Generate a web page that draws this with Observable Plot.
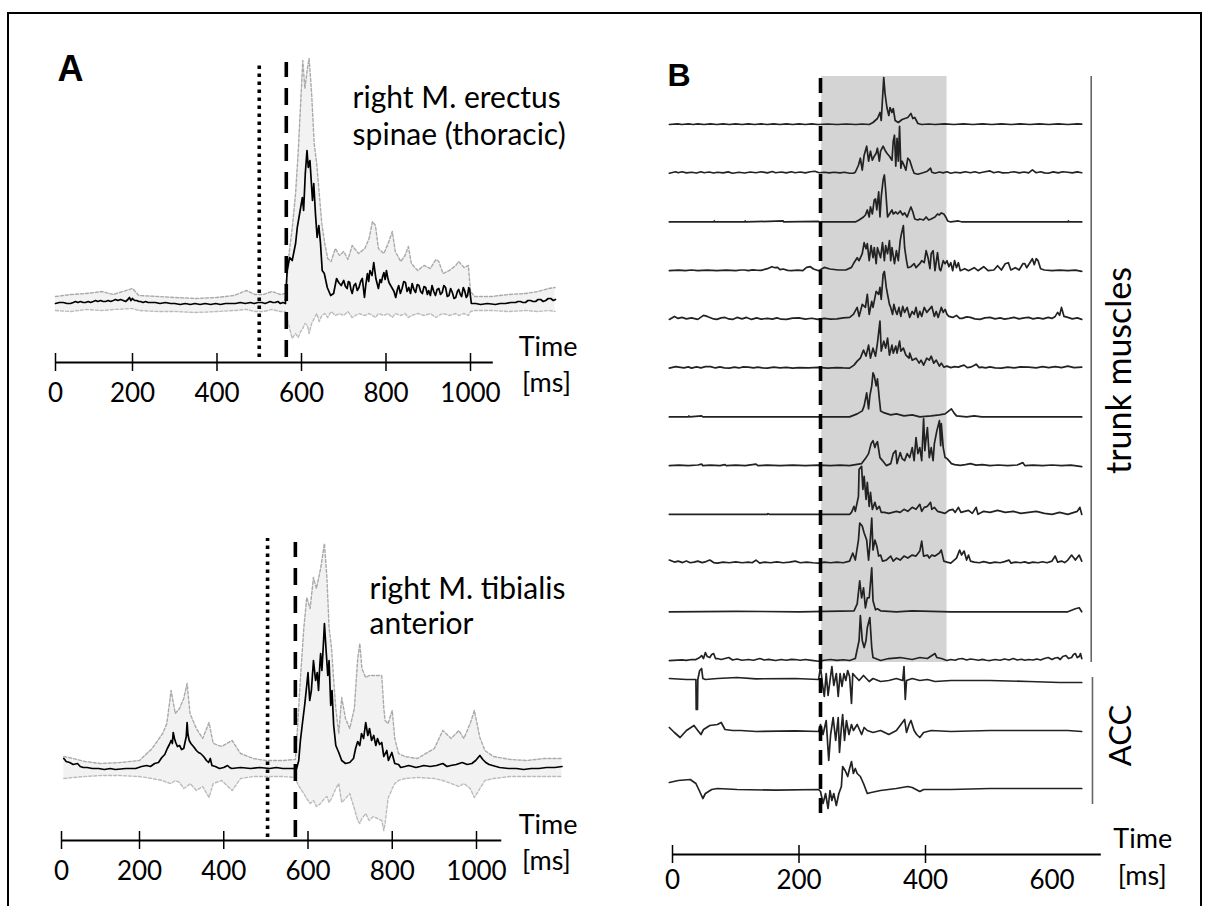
<!DOCTYPE html>
<html><head><meta charset="utf-8">
<script src="https://cdn.jsdelivr.net/npm/d3@7"></script>
<script src="https://cdn.jsdelivr.net/npm/@observablehq/plot@0.6"></script>
<style>
html,body{margin:0;padding:0;background:#fff;width:1207px;height:906px;overflow:hidden;}
#fig{position:relative;width:1207px;height:906px;overflow:hidden;}
#fig svg{position:absolute;left:0;top:0;}
#frame{position:absolute;left:7px;top:12px;width:1195px;height:1000px;border:2.5px solid #000;box-sizing:border-box;}
</style></head><body><div id="fig"><div id="frame"></div></div>
<script>
// ---------- Panel A: time ticks (ms) ----------
const aTicks = [0, 200, 400, 600, 800, 1000];
// onset markers [dotted, dashed] in ms
const erectusMarkers = [500, 564];
const tibialisMarkers = [504, 570];
const erectusLabel = ["right M. erectus", "spinae (thoracic)"];
const tibialisLabel = ["right M. tibialis", "anterior"];

// mean EMG (black) [ms, amplitude a.u.]
const erectusMean = [[0,0],[10,1],[20,1],[30,0],[39,0],[46,1],[52,2],[58,1],[65,2],[72,1],[78,1],[85,2],[91,1],[98,2],[104,3],[110,2],[117,3],[124,2],[130,2],[137,3],[143,2],[150,3],[156,4],[162,3],[169,4],[176,3],[182,2],[188,4],[192,6],[196,3],[200,5],[205,3],[210,3],[215,2],[219,2],[225,1],[231,2],[237,1],[243,1],[254,1],[265,0],[278,1],[290,0],[300,0],[313,-1],[325,0],[337,-1],[348,0],[360,-1],[372,0],[385,-1],[397,0],[408,-1],[420,0],[432,0],[444,0],[455,1],[467,0],[479,1],[488,0],[497,1],[506,1],[514,0],[520,1],[526,2],[532,1],[538,1],[544,2],[550,0],[556,1],[562,0],[566,33],[572,46],[578,43],[586,60],[590,76],[598,96],[602,106],[605,93],[609,130],[613,153],[616,136],[620,143],[623,123],[626,103],[629,120],[633,90],[637,66],[641,78],[645,60],[649,33],[654,30],[661,16],[669,8],[676,10],[683,25],[688,21],[694,18],[700,23],[704,17],[708,15],[711,22],[714,21],[717,14],[720,10],[724,18],[728,20],[732,13],[736,16],[740,22],[744,25],[749,6],[752,18],[756,30],[759,22],[762,33],[767,28],[771,41],[776,25],[779,20],[782,15],[786,24],[789,21],[792,27],[795,31],[798,24],[801,33],[804,26],[807,21],[811,18],[815,15],[819,12],[823,6],[827,14],[830,18],[834,10],[838,15],[842,22],[846,21],[850,12],[854,16],[858,10],[862,20],[866,14],[870,11],[874,19],[878,18],[882,12],[886,10],[890,17],[894,16],[898,9],[901,13],[905,8],[909,18],[913,12],[917,8],[921,14],[925,15],[929,9],[933,11],[937,18],[941,16],[945,7],[949,8],[953,15],[957,11],[961,5],[965,6],[969,12],[972,14],[976,9],[979,7],[983,16],[986,13],[990,6],[993,8],[996,16],[998,14],[1002,0],[1012,0],[1024,-1],[1040,0],[1059,-1],[1070,0],[1083,0],[1095,1],[1107,1],[1112,2],[1118,2],[1124,1],[1130,1],[1136,3],[1142,3],[1148,2],[1154,2],[1160,4],[1166,4],[1172,2],[1178,3],[1184,5],[1190,5],[1196,3],[1201,4]];
// single trials (grey) envelope [ms, low, high]
const erectusTrials = [[0,-7,7],[40,-8,9],[80,-6,10],[120,-7,12],[150,-6,9],[200,-5,15],[215,-7,8],[260,-8,7],[300,-8,6],[350,-9,5],[400,-8,6],[440,-7,8],[470,-6,13],[490,-8,9],[510,-8,9],[530,-6,12],[550,-8,9],[562,-8,10],[566,-15,30],[572,-25,55],[578,-35,75],[586,-30,110],[592,-34,150],[598,-28,200],[603,-25,243],[608,-20,215],[614,-22,235],[618,-30,245],[624,-20,210],[630,-15,160],[636,-10,140],[642,-18,110],[648,-12,80],[655,-10,60],[662,-14,45],[670,-8,42],[680,-12,55],[690,-10,48],[700,-12,52],[710,-8,44],[720,-14,58],[735,-10,50],[750,-12,55],[760,-10,65],[768,-12,82],[775,-14,78],[782,-10,55],[795,-12,50],[805,-10,60],[815,-14,72],[822,-10,52],[835,-12,42],[845,-10,48],[853,-14,57],[860,-12,40],[875,-10,33],[890,-12,38],[905,-10,35],[918,-14,44],[925,-12,42],[935,-10,30],[950,-12,33],[965,-10,38],[972,-12,42],[985,-10,36],[995,-12,38],[1000,-8,12],[1010,-7,7],[1050,-7,7],[1090,-8,9],[1130,-7,10],[1160,-8,12],[1185,-7,15],[1200,-8,16]];

const tibialisMean = [[6,10],[12,7],[21,6],[30,4],[41,5],[48,2],[56,1],[66,1],[79,0],[95,0],[110,-1],[125,0],[138,-1],[165,0],[190,0],[205,2],[217,3],[226,2],[236,5],[245,6],[253,11],[260,14],[266,20],[271,24],[275,28],[278,25],[280,36],[283,30],[286,26],[290,22],[295,23],[300,19],[305,20],[309,28],[311,32],[313,46],[315,34],[318,28],[322,25],[326,23],[330,21],[335,18],[340,16],[345,15],[350,13],[354,11],[359,8],[364,6],[368,10],[372,3],[380,2],[390,0],[400,1],[409,3],[414,1],[419,0],[440,1],[464,0],[485,1],[509,0],[525,1],[540,0],[556,0],[573,0],[578,8],[582,28],[587,46],[592,63],[597,83],[600,96],[604,68],[608,78],[613,108],[618,88],[622,96],[625,78],[628,103],[630,115],[633,98],[637,128],[639,145],[643,118],[647,93],[650,108],[654,63],[657,78],[661,43],[666,23],[673,16],[680,8],[689,5],[699,6],[708,10],[713,20],[718,27],[723,23],[727,35],[732,30],[737,46],[742,33],[746,40],[751,28],[756,33],[761,23],[765,30],[770,24],[775,26],[780,12],[787,18],[791,8],[799,16],[806,5],[815,4],[820,1],[830,2],[839,3],[848,2],[856,1],[866,2],[875,3],[890,2],[905,3],[920,5],[930,2],[939,3],[952,4],[966,6],[978,4],[989,5],[998,8],[1008,13],[1015,9],[1022,6],[1030,4],[1038,3],[1055,1],[1076,0],[1095,0],[1112,-1],[1130,0],[1148,0],[1166,1],[1186,1],[1203,2]];
const tibialisTrials = [[6,-10,12],[30,-9,10],[60,-8,7],[100,-7,5],[150,-7,6],[200,-8,8],[230,-10,20],[255,-12,35],[265,-14,45],[275,-15,78],[285,-12,55],[295,-14,60],[305,-20,70],[313,-18,85],[320,-15,55],[335,-22,40],[350,-18,30],[365,-29,46],[375,-15,25],[395,-12,22],[420,-22,28],[440,-10,15],[470,-8,10],[500,-8,8],[540,-8,8],[570,-9,9],[575,-15,40],[582,-20,90],[590,-25,140],[597,-30,171],[605,-35,160],[613,-32,191],[620,-38,180],[630,-35,200],[639,-30,225],[645,-28,190],[650,-34,141],[656,-30,120],[661,-25,88],[666,-20,60],[673,-15,35],[680,-34,71],[689,-30,50],[699,-25,40],[710,-40,60],[718,-52,110],[723,-55,125],[728,-50,100],[737,-45,91],[745,-52,93],[755,-48,93],[765,-50,93],[775,-52,93],[780,-62,60],[783,-55,48],[790,-30,45],[800,-20,58],[806,-15,30],[815,-12,15],[830,-10,12],[860,-9,10],[900,-10,20],[920,-12,38],[940,-15,30],[958,-18,38],[970,-15,30],[985,-20,45],[995,-29,58],[1008,-20,31],[1020,-12,18],[1040,-10,12],[1080,-8,9],[1120,-8,8],[1160,-8,10],[1203,-8,10]];

// ---------- Panel B ----------
const bTicks = [0, 200, 400];
const bTickLabels = [0, 200, 400, 600];
const bOnset = [234];
const bWindow = [[236, 434]];
const trunk = [
[[-5,0],[8,0.6],[15,0],[25,0.6],[33,0],[40,0.7],[50,0],[60,0.7],[70,0],[80,0.6],[90,0],[100,0.6],[110,0],[120,0.7],[130,0],[140,0.6],[150,0],[160,0.7],[170,0],[180,0.6],[190,0],[200,0.6],[210,0],[220,0.7],[230,0],[245,0.5],[260,0],[275,0.5],[290,0],[300,0.5],[311,0],[317,2],[324,6],[328,12],[330,4],[334,47],[336,31],[339,17],[342,9],[344,17],[347,12],[349,16],[352,4],[357,2],[363,5],[372,7],[377,11],[380,6],[383,7],[388,1],[394,0],[405,0.5],[415,0],[430,0.6],[445,0],[460,0.6],[475,0],[490,0.6],[505,0],[520,0.6],[535,0],[550,0.6],[565,0],[580,0.6],[595,0],[610,0.6],[625,0],[640,0.6],[647,0.3]],
[[-5,0],[5,1.5],[9,0.5],[15,1.5],[22,0.3],[30,1],[38,0.2],[45,1.5],[50,0.5],[58,1.2],[65,0.2],[71,1],[80,0.3],[88,1.3],[95,0],[105,1],[114,0.2],[123,1.2],[132,0.5],[140,1.5],[150,0.3],[158,1.7],[163,0.5],[172,1.2],[180,0.3],[188,1.5],[194,0.5],[202,1.2],[210,0.3],[218,1.5],[225,2],[232,0.5],[240,1],[248,0.3],[255,1],[265,0.3],[272,1],[280,0],[286,0],[289,1],[294,8],[297,15],[300,3],[303,18],[307,27],[310,12],[313,22],[316,13],[319,17],[322,20],[324,25],[327,12],[329,22],[333,27],[336,23],[339,20],[343,17],[347,13],[349,32],[351,38],[353,7],[355,35],[357,12],[359,47],[361,5],[363,12],[366,8],[369,3],[372,15],[375,13],[379,5],[382,0],[388,-1],[396,0.5],[403,2],[408,5],[410,1],[415,0],[422,1.2],[428,0.3],[434,1.5],[440,0],[447,1],[455,0.3],[463,1.5],[471,0.5],[478,1.5],[485,0.2],[492,1.2],[502,2.3],[508,0.5],[515,1.5],[522,0.3],[532,0.7],[540,1.5],[548,0.3],[556,1.2],[563,0.3],[569,3.3],[575,0.5],[582,1.5],[588,0.3],[594,0],[602,1.3],[610,0.3],[617,1.5],[625,1],[632,0.3],[640,1.3],[647,0.5]],
[[-5,0],[65,0],[66,1],[67,0],[114,0],[115,1],[116,0],[175,1],[176,0],[231,0.5],[234,0],[289,0],[295,2],[302,5],[305,7],[308,12],[311,5],[313,15],[316,8],[319,22],[321,23],[323,12],[326,30],[328,5],[330,25],[333,42],[335,47],[337,32],[340,5],[343,8],[347,12],[349,8],[353,10],[356,8],[360,11],[364,7],[367,9],[371,5],[375,12],[377,15],[380,10],[383,3],[388,2],[391,3],[397,2],[401,5],[405,2],[409,3],[415,5],[419,8],[422,7],[425,9],[429,8],[432,5],[435,1],[440,0],[452,1],[458,0],[520,0],[625,0],[626,1],[627,0],[647,0]],
[[-5,0],[10,0.6],[20,0],[30,0.7],[40,0],[55,0.5],[70,0],[85,0.6],[100,0],[108,0.7],[114,0.7],[120,0],[126,0.8],[132,0.5],[140,0.3],[150,2],[157,4],[162,3],[166,3.3],[170,1],[175,1.7],[182,0.3],[188,0],[198,0.5],[206,0],[212,3.3],[218,4],[223,1.7],[231,0],[240,3.3],[249,1.7],[262,0.7],[274,0.7],[283,3.3],[287,8],[292,13],[295,10],[300,17],[303,28],[306,22],[308,27],[311,10],[314,25],[317,13],[319,23],[322,7],[324,23],[327,17],[329,13],[332,28],[335,10],[337,25],[340,17],[343,30],[345,10],[347,23],[351,7],[354,20],[357,10],[360,30],[362,37],[365,45],[367,23],[370,10],[372,3],[377,4],[382,7],[385,3],[391,7],[394,10],[398,8],[401,20],[404,13],[407,2],[409,17],[412,20],[415,0],[419,18],[422,2],[424,0],[428,10],[431,7],[434,10],[437,4],[440,8],[443,0],[446,10],[449,3],[452,8],[455,0],[462,2],[468,0],[477,3],[483,0],[492,4],[499,0],[508,0.7],[514,5],[520,0.7],[526,7],[531,8],[535,0.7],[542,3],[548,0.7],[554,7],[557,7],[560,3],[569,12],[572,6],[575,12],[578,10],[582,2],[588,0.7],[600,0],[612,0.5],[625,0],[637,0.5],[647,-0.7]],
[[-5,0],[3,3],[9,1],[15,2],[22,0.5],[30,1.5],[40,0],[49,4],[55,3],[59,2],[65,0.5],[70,0],[77,1.5],[83,2],[89,0.5],[95,0],[102,2],[110,0.5],[117,2],[125,0],[133,1.5],[140,0.3],[150,1],[158,0.3],[165,1.5],[172,0.2],[180,0],[190,1.3],[200,1.5],[210,0.3],[220,1.2],[230,0],[240,1],[250,0.3],[260,0.5],[270,1.5],[280,2],[286,5],[292,12],[295,3],[300,15],[305,12],[308,25],[311,5],[315,18],[317,12],[322,28],[326,25],[328,32],[330,20],[333,45],[335,48],[338,32],[340,25],[343,15],[345,12],[348,5],[350,15],[353,8],[355,5],[358,12],[361,3],[364,13],[367,7],[371,12],[375,2],[379,8],[382,5],[385,12],[388,2],[391,8],[394,3],[398,12],[402,7],[406,10],[410,13],[414,3],[417,8],[420,2],[425,12],[428,7],[431,10],[434,5],[437,3],[443,2],[449,4],[454,1],[458,1],[465,2.5],[471,2],[478,0.5],[486,0],[494,1.5],[502,2],[510,0.5],[518,1.5],[525,0.3],[532,1],[540,2],[548,0.5],[556,1.5],[563,2],[570,0.5],[578,1.5],[586,0.5],[594,2],[600,1],[605,3],[609,7],[612,4],[615,12],[619,3],[625,2],[632,0.5],[640,1.5],[647,0]],
[[-5,0],[5,1.5],[10,1],[18,0.3],[25,1.3],[30,0],[38,1.2],[45,0.3],[52,1.5],[60,1.5],[68,0.2],[75,1.2],[82,0.3],[90,0],[98,1],[105,0.2],[112,1.3],[120,1],[128,0.2],[135,1],[142,0.3],[150,0],[160,1],[170,0.2],[180,0.8],[190,0],[200,0.5],[215,0.2],[230,0.8],[245,0],[260,0.6],[270,0.2],[280,0],[287,3],[292,7],[297,10],[302,18],[306,12],[310,23],[313,10],[317,20],[321,12],[324,25],[328,47],[330,17],[334,27],[337,20],[340,30],[343,13],[347,23],[349,15],[353,22],[355,15],[359,27],[361,17],[365,20],[369,13],[374,10],[375,15],[379,8],[385,10],[390,5],[393,8],[397,3],[402,10],[406,8],[409,12],[413,5],[417,8],[422,2],[425,5],[429,1],[434,2],[440,0.5],[446,1.5],[452,1],[456,2],[461,3],[466,0.5],[471,1],[476,2.5],[480,4],[485,0.5],[489,1],[495,0.3],[502,1.2],[510,0.3],[520,0],[530,1],[540,0.3],[550,1.2],[563,1],[575,0.3],[585,1.5],[595,0.5],[605,1.5],[615,0.5],[625,2],[635,0.5],[647,1]],
[[-5,0],[25,0],[26,1],[27,0],[46,1],[48,0],[280,0],[292,3],[300,6],[303,11],[307,24],[310,8],[312,21],[315,31],[317,44],[319,41],[322,31],[324,38],[327,18],[329,6],[335,4],[345,2],[354,3],[366,1],[379,2],[391,0],[409,1],[422,2],[431,3],[437,6],[441,8],[445,4],[449,1],[465,0],[477,1],[489,0],[647,0]],
[[-5,0],[10,0.5],[25,0],[40,0.6],[46,1.5],[48,0],[60,0.5],[75,0],[83,1],[85,0],[100,0.5],[115,0],[132,1.5],[135,0],[150,0.5],[170,0],[190,0.5],[210,0],[230,0.5],[250,0],[265,0.5],[280,0],[299,2],[305,7],[310,12],[314,22],[317,25],[320,18],[322,22],[324,24],[328,8],[332,5],[338,0],[345,2],[349,12],[353,15],[355,2],[360,13],[363,7],[367,5],[371,12],[375,8],[379,18],[382,5],[385,28],[388,12],[391,18],[394,5],[397,47],[399,15],[400,22],[403,38],[406,8],[409,18],[412,5],[414,22],[418,35],[422,45],[424,20],[425,42],[428,18],[431,8],[434,7],[437,5],[441,2],[446,1],[455,0.3],[463,1],[471,2],[480,0.5],[490,1],[502,0],[515,0.6],[530,0],[545,0.6],[554,3],[557,0],[570,0.5],[585,0],[600,0.6],[615,0],[630,0.5],[647,-1]],
[[-5,0],[150,0],[151,0.7],[153,0],[280,0],[283,2],[287,8],[289,3],[294,18],[295,45],[299,48],[301,25],[303,38],[306,15],[308,32],[311,8],[313,22],[316,5],[320,12],[323,5],[327,8],[330,2],[335,2],[342,1],[348,2],[354,3],[360,2],[366,5],[372,3],[379,7],[385,5],[391,10],[394,3],[398,7],[403,8],[408,12],[410,5],[414,7],[419,3],[425,2],[431,1],[437,4],[443,5],[447,2],[452,7],[456,2],[462,3],[468,4],[474,1],[480,7],[483,0],[492,3],[502,2],[514,4],[526,2],[539,3],[551,1],[563,2],[575,3],[588,1],[600,0],[612,2],[625,0],[640,3],[644,7],[647,0]],
[[-5,3],[3,1],[9,2],[16,0.5],[22,2],[28,0.3],[34,1],[40,2],[47,0.5],[53,1.5],[59,3],[65,0.5],[71,0],[80,1],[90,0.3],[100,1.2],[110,0.3],[120,1],[126,0.3],[132,3],[138,0],[146,1],[155,0.3],[165,1.2],[175,0.3],[185,1],[194,2],[202,0.3],[212,1],[222,0.3],[231,0],[240,1],[250,0.3],[260,1],[270,0.3],[280,2],[285,10],[289,3],[294,23],[296,40],[300,37],[303,30],[307,23],[310,3],[312,17],[315,45],[317,13],[320,23],[323,17],[326,7],[329,8],[332,2],[338,3],[345,7],[349,2],[354,5],[360,3],[366,7],[372,5],[379,8],[385,7],[391,12],[394,22],[397,7],[403,8],[406,5],[410,8],[415,7],[422,10],[425,13],[429,2],[434,1],[440,0],[449,5],[454,13],[457,8],[461,12],[465,3],[468,8],[471,2],[477,1],[485,0.3],[492,1.5],[502,0],[510,1],[518,0.3],[525,1.5],[532,3],[535,0],[542,1],[550,0.3],[557,1.2],[563,0],[570,1],[578,0.3],[585,1.3],[592,0.3],[600,2],[605,7],[609,1],[615,2],[620,0.5],[625,3],[631,8],[637,3],[643,8],[647,2]],
[[-5,0],[100,0.5],[200,0],[287,1],[292,8],[296,31],[299,14],[302,24],[305,4],[308,14],[311,14],[315,44],[317,11],[321,2],[324,3],[329,1],[354,0],[379,1],[440,0],[625,0],[637,3],[643,4],[647,0]],
[[-5,0],[8,0.5],[15,0.7],[22,0.2],[30,1],[37,1],[43,3],[46,5],[49,2],[52,8],[55,4],[59,3],[62,6],[65,7],[68,2],[71,2],[77,1],[83,2],[89,3],[95,0.5],[102,1.5],[110,0.3],[120,1],[128,0.3],[138,2],[145,0.5],[152,1.2],[163,0],[172,1],[180,0.3],[188,1.2],[194,1],[202,0.3],[210,1],[220,0.2],[231,-0.7],[240,0.3],[250,1],[260,0.2],[270,0.8],[280,0],[289,2],[295,20],[297,45],[300,20],[303,13],[306,20],[308,33],[312,43],[315,13],[317,3],[329,0],[342,2],[360,3],[379,1],[391,3],[403,2],[415,7],[418,3],[425,2],[434,0],[440,1],[447,0.3],[452,1.5],[458,2],[465,0.5],[471,1.5],[477,1],[484,0.3],[490,1.2],[496,0.3],[502,0],[510,1],[518,0.3],[525,1.5],[532,0.5],[539,2],[545,0.5],[552,1.3],[557,0.3],[563,1],[570,0.5],[576,1.5],[582,0.5],[588,2],[594,3],[600,1],[605,2.5],[609,3],[613,1],[617,4],[622,5],[626,2],[631,3],[634,6],[637,7],[640,3],[643,4],[645,7],[647,2]]
];
const acc = [
[[-5,1],[22,0],[37,0],[37.5,-30],[39.5,-30],[40,0],[43,9],[46,11],[48,1],[52,0],[71,1],[102,2],[132,0.7],[194,1],[231,0],[234,13],[237,-4],[240,-17],[243,6],[246,-16],[249,-1],[252,13],[255,-6],[259,6],[262,-17],[265,6],[268,-7],[271,6],[274,-1],[277,9],[280,3],[283,-24],[285,6],[289,3],[295,-1],[302,4],[311,-2],[317,1],[329,-2],[342,-1],[354,1],[364,-1],[366,13],[368,-20],[370,-1],[379,1],[391,-1],[403,0],[415,-2],[440,-1],[502,-1],[563,-2],[612,-3],[647,-3]],
[[-5,4],[3,-1],[12,-6],[22,1],[34,6],[40,1],[45,-3],[49,2],[59,6],[71,7],[77,9],[83,2],[95,1],[108,1],[132,0],[194,0.7],[231,0],[234,7],[238,-3],[243,11],[247,-29],[250,-3],[254,14],[258,-9],[262,14],[264,-21],[267,4],[269,17],[272,-9],[275,11],[279,-3],[283,7],[286,1],[292,7],[299,-3],[303,4],[308,1],[317,-1],[329,1],[342,-3],[354,1],[367,12],[370,-1],[374,7],[377,11],[382,1],[386,-3],[391,-6],[397,-1],[409,1],[440,0],[502,1],[625,1],[647,0]],
[[-5,7],[9,9],[28,10],[37,6],[43,-2],[48,-9],[52,-4],[62,0],[71,1],[102,0],[163,-0.7],[231,0],[234,-2],[238,-14],[242,-4],[246,-19],[249,-1],[252,-11],[255,-4],[259,-16],[263,-4],[267,3],[269,23],[273,19],[277,13],[280,21],[283,28],[286,16],[289,21],[292,16],[297,13],[302,6],[308,-4],[314,-3],[329,-1],[354,1],[372,3],[379,2],[391,-2],[397,0],[440,0],[502,1],[647,1]]
];

// ---------- drawing ----------
const fig = document.getElementById("fig");
const FONT = "Lato, 'Open Sans', sans-serif";
function layer(opts) {
  const svg = Plot.plot({width: 1207, height: 906, margin: 0,
    style: {background: "transparent", overflow: "visible"}, ...opts});
  fig.appendChild(svg);
}

function emgPanel(o) {
  const axisY = o.axisY;
  layer({
    x: {type: "linear", domain: [0, 200, 1000], range: o.xRange, axis: null},
    y: {domain: [0, 245], range: o.yRange, axis: null},
    marks: [
      Plot.areaY(o.trials, {x: d => d[0], y1: d => d[1], y2: d => d[2], fill: "#f2f2f2"}),
      Plot.line(o.trials, {x: d => d[0], y: d => d[2], stroke: "#aaaaaa", strokeWidth: 1.4, strokeDasharray: "3,2"}),
      Plot.line(o.trials, {x: d => d[0], y: d => d[1], stroke: "#bbbbbb", strokeWidth: 1.4, strokeDasharray: "3,2"}),
      Plot.line(o.mean, {x: d => d[0], y: d => d[1], stroke: "#000", strokeWidth: 1.7}),
      Plot.ruleX([o.markers[0]], {y1: o.dotted[0], y2: o.dotted[1], stroke: "#000", strokeWidth: 3.6, strokeDasharray: "3.6,4.4"}),
      Plot.ruleX([o.markers[1]], {y1: o.dashed[0], y2: o.dashed[1], stroke: "#000", strokeWidth: 3.6, strokeDasharray: "17,11"}),
      Plot.ruleY([axisY], {x1: 0, x2: o.axisEnd, stroke: "#000", strokeWidth: 2}),
      Plot.ruleX(aTicks, {y1: axisY + 9, y2: axisY - 9, stroke: "#000", strokeWidth: 1.5}),
      Plot.text(aTicks, {x: d => d, y: axisY - 31, text: d => String(d), fontSize: 26, fontFamily: FONT, fill: "#000"}),
      Plot.text(["Time"], {x: o.timeX, y: axisY + 7, text: d => d, textAnchor: "start", lineAnchor: "bottom", fontSize: 27, fontFamily: FONT, fill: "#000"}),
      Plot.text(["[ms]"], {x: o.timeX + 8, y: axisY - 21, text: d => d, textAnchor: "start", fontSize: 27, fontFamily: FONT, fill: "#000"}),
      Plot.text([o.label[0]], {x: o.labelX, y: o.labelY, text: d => d, textAnchor: "start", lineAnchor: "bottom", fontSize: 30, fontFamily: FONT, fill: "#000"}),
      Plot.text([o.label[1]], {x: o.labelX, y: o.labelY - o.lineGap, text: d => d, textAnchor: "start", lineAnchor: "bottom", fontSize: 30, fontFamily: FONT, fill: "#000"}),
      ...(o.letter ? [Plot.text([o.letter], {x: o.letterX, y: o.letterY, text: d => d, textAnchor: "start", lineAnchor: "bottom", fontSize: 36, fontWeight: "bold", fontFamily: "'Liberation Sans', Arial, sans-serif", fill: "#000"})] : [])
    ]
  });
}

emgPanel({xRange: [55, 132, 470], yRange: [303, 58], axisY: -59, axisEnd: 1054,
  trials: erectusTrials, mean: erectusMean, markers: erectusMarkers,
  dotted: [-54, 241], dashed: [-54, 241], timeX: 1114, label: erectusLabel, labelX: 721, labelY: 196, lineGap: 37,
  letter: "A", letterX: 5, letterY: 223});
emgPanel({xRange: [61, 139, 476], yRange: [768, 523], axisY: -72, axisEnd: 1060,
  trials: tibialisTrials, mean: tibialisMean, markers: tibialisMarkers,
  dotted: [-69, 230], dashed: [-69, 226], timeX: 1100, label: tibialisLabel, labelX: 746, labelY: 170, lineGap: 35});

// Panel B
const rowGap = 48.73;
const accBase = [-555, -607, -665];
const rows = [...trunk, ...acc];
const flat = rows.flatMap((pts, i) => {
  const base = i < trunk.length ? -i * rowGap : accBase[i - trunk.length];
  return pts.map(([t, a]) => ({t, v: a + base, id: i}));
});
const bAxisY = -730;
layer({
  x: {domain: [0, 600], range: [672, 1051.5], axis: null},
  y: {domain: [0, -665], range: [124, 789], axis: null},
  marks: [
    Plot.rect(bWindow, {x1: d => d[0], x2: d => d[1], y1: 48, y2: -538, fill: "#d4d4d4"}),
    Plot.line(flat, {x: "t", y: "v", z: "id", stroke: "#222", strokeWidth: 1.7}),
    Plot.ruleX(bOnset, {y1: 46, y2: -696, stroke: "#000", strokeWidth: 3.6, strokeDasharray: "15,9"}),
    Plot.ruleX([662], {y1: 48, y2: -538, stroke: "#666", strokeWidth: 1.6}),
    Plot.ruleX([664], {y1: -553, y2: -680, stroke: "#666", strokeWidth: 1.6}),
    Plot.text(["trunk muscles"], {x: 708, y: -246, text: d => d, rotate: -90, fontSize: 34, fontFamily: FONT, fill: "#000"}),
    Plot.text(["ACC"], {x: 709, y: -611, text: d => d, rotate: -90, fontSize: 31, fontFamily: FONT, fill: "#000"}),
    Plot.ruleY([bAxisY], {x1: 0, x2: 678, stroke: "#000", strokeWidth: 2}),
    Plot.ruleX(bTicks, {y1: bAxisY + 9, y2: bAxisY - 9, stroke: "#000", strokeWidth: 1.5}),
    Plot.text(bTickLabels, {x: d => d, y: bAxisY - 26, text: d => String(d), fontSize: 26, fontFamily: FONT, fill: "#000"}),
    Plot.text(["Time"], {x: 697, y: bAxisY + 7, text: d => d, textAnchor: "start", lineAnchor: "bottom", fontSize: 27, fontFamily: FONT, fill: "#000"}),
    Plot.text(["[ms]"], {x: 704, y: bAxisY - 22, text: d => d, textAnchor: "start", fontSize: 27, fontFamily: FONT, fill: "#000"}),
    Plot.text(["B"], {x: -8, y: 39, text: d => d, textAnchor: "start", lineAnchor: "bottom", fontSize: 32, fontWeight: "bold", fontFamily: "'Liberation Sans', Arial, sans-serif", fill: "#000"})
  ]
});
</script>
</body></html>
